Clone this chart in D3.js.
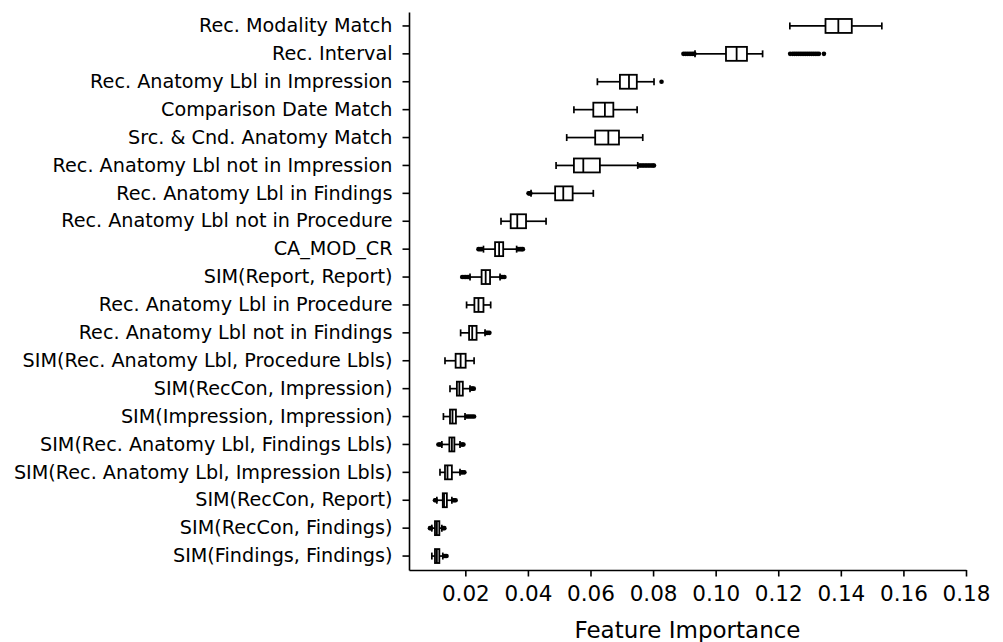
<!DOCTYPE html>
<html>
<head>
<meta charset="utf-8">
<script src="https://cdn.jsdelivr.net/npm/d3@7"></script>
<style>
  body { margin: 0; background: #fff; }
  .axis text { font-family: "DejaVu Sans", sans-serif; fill: #000; }
  .axis path, .axis line { stroke: #000; }
</style>
</head>
<body>
<div id="chart"></div>
<script>
var features = [
  "Rec. Modality Match",
  "Rec. Interval",
  "Rec. Anatomy Lbl in Impression",
  "Comparison Date Match",
  "Src. & Cnd. Anatomy Match",
  "Rec. Anatomy Lbl not in Impression",
  "Rec. Anatomy Lbl in Findings",
  "Rec. Anatomy Lbl not in Procedure",
  "CA_MOD_CR",
  "SIM(Report, Report)",
  "Rec. Anatomy Lbl in Procedure",
  "Rec. Anatomy Lbl not in Findings",
  "SIM(Rec. Anatomy Lbl, Procedure Lbls)",
  "SIM(RecCon, Impression)",
  "SIM(Impression, Impression)",
  "SIM(Rec. Anatomy Lbl, Findings Lbls)",
  "SIM(Rec. Anatomy Lbl, Impression Lbls)",
  "SIM(RecCon, Report)",
  "SIM(RecCon, Findings)",
  "SIM(Findings, Findings)"
];

var whiskerLo = [0.1237, 0.0934, 0.0622, 0.0547, 0.0524, 0.0490, 0.0410, 0.0314, 0.0258, 0.0215,
                 0.0204, 0.0185, 0.0135, 0.0151, 0.0130, 0.0125, 0.0119, 0.0109, 0.0093, 0.0093];
var q1 = [0.1351, 0.1033, 0.0694, 0.0609, 0.0615, 0.0547, 0.0487, 0.0345, 0.0295, 0.0252,
          0.0229, 0.0212, 0.0169, 0.0173, 0.0151, 0.0149, 0.0135, 0.0128, 0.0103, 0.0103];
var median = [0.1392, 0.1067, 0.0723, 0.0646, 0.0657, 0.0577, 0.0513, 0.0366, 0.0308, 0.0265,
              0.0242, 0.0222, 0.0185, 0.0181, 0.0159, 0.0157, 0.0143, 0.0132, 0.0109, 0.0109];
var q3 = [0.1435, 0.1100, 0.0748, 0.0673, 0.0691, 0.0630, 0.0543, 0.0394, 0.0321, 0.0279,
          0.0258, 0.0236, 0.0201, 0.0192, 0.0170, 0.0165, 0.0157, 0.0141, 0.0117, 0.0117];
var whiskerHi = [0.1531, 0.1150, 0.0803, 0.0749, 0.0767, 0.0751, 0.0609, 0.0458, 0.0364, 0.0311,
                 0.0281, 0.0263, 0.0228, 0.0215, 0.0199, 0.0183, 0.0183, 0.0157, 0.0125, 0.0128];
var outliers = [
  [],
  [0.0897, 0.0903, 0.0909, 0.0915, 0.0921, 0.0927, 0.0932,
   0.1238, 0.1246, 0.1252, 0.1258, 0.1264, 0.1270, 0.1276, 0.1282, 0.1288, 0.1294, 0.1300,
   0.1306, 0.1312, 0.1318, 0.1324, 0.1330, 0.1346],
  [0.0827],
  [],
  [],
  [0.0755, 0.0760, 0.0765, 0.0770, 0.0775, 0.0780, 0.0785, 0.0790, 0.0795, 0.0800, 0.0803],
  [0.0402, 0.0405, 0.0408],
  [],
  [0.0242, 0.0247, 0.0252, 0.0368, 0.0372, 0.0377, 0.0381, 0.0384],
  [0.0190, 0.0196, 0.0201, 0.0206, 0.0211, 0.0315, 0.0320, 0.0325],
  [],
  [0.0267, 0.0272, 0.0277],
  [],
  [0.0219, 0.0223, 0.0227],
  [0.0204, 0.0210, 0.0216, 0.0222, 0.0228],
  [0.0114, 0.0118, 0.0121, 0.0187, 0.0191, 0.0194],
  [0.0187, 0.0192, 0.0197],
  [0.0103, 0.0106, 0.0161, 0.0165, 0.0169],
  [0.0087, 0.0090, 0.0129, 0.0133],
  [0.0132, 0.0136, 0.0140]
];

var xTicks = [0.02, 0.04, 0.06, 0.08, 0.10, 0.12, 0.14, 0.16, 0.18];
var xLabel = "Feature Importance";

var width = 1003, height = 642;
var margin = {left: 409, right: 37, top: 12, bottom: 72};

var svg = d3.select("#chart").append("svg")
  .attr("width", width)
  .attr("height", height);

var x = d3.scaleLinear()
  .domain([0.002, 0.18])
  .range([margin.left, width - margin.right]);

var y = d3.scaleBand()
  .domain(features)
  .range([margin.top, height - margin.bottom])
  .padding(0);

var bw = y.bandwidth();
var boxH = bw * 0.5;
var capH = bw * 0.25;

var rows = features.map(function (f, i) {
  return {name: f, lo: whiskerLo[i], q1: q1[i], med: median[i], q3: q3[i], hi: whiskerHi[i], out: outliers[i]};
});

var g = svg.append("g").attr("class", "boxes");

var row = g.selectAll(".row")
  .data(rows)
  .enter().append("g")
  .attr("class", "row")
  .attr("transform", function (d) { return "translate(0," + (y(d.name) + bw / 2) + ")"; });

// whiskers
row.append("line")
  .attr("x1", function (d) { return x(d.lo); })
  .attr("x2", function (d) { return x(d.q1); })
  .attr("stroke", "#000").attr("stroke-width", 1.7);
row.append("line")
  .attr("x1", function (d) { return x(d.q3); })
  .attr("x2", function (d) { return x(d.hi); })
  .attr("stroke", "#000").attr("stroke-width", 1.7);

// caps
row.selectAll(".cap")
  .data(function (d) { return [d.lo, d.hi]; })
  .enter().append("line")
  .attr("class", "cap")
  .attr("x1", function (v) { return x(v); })
  .attr("x2", function (v) { return x(v); })
  .attr("y1", -capH / 2)
  .attr("y2", capH / 2)
  .attr("stroke", "#000").attr("stroke-width", 1.7);

// box
row.append("rect")
  .attr("x", function (d) { return x(d.q1); })
  .attr("width", function (d) { return x(d.q3) - x(d.q1); })
  .attr("y", -boxH / 2)
  .attr("height", boxH)
  .attr("fill", "#fff")
  .attr("stroke", "#000").attr("stroke-width", 1.8);

// median
row.append("line")
  .attr("x1", function (d) { return x(d.med); })
  .attr("x2", function (d) { return x(d.med); })
  .attr("y1", -boxH / 2)
  .attr("y2", boxH / 2)
  .attr("stroke", "#000").attr("stroke-width", 1.8);

// fliers
row.selectAll(".flier")
  .data(function (d) { return d.out; })
  .enter().append("circle")
  .attr("class", "flier")
  .attr("cx", function (v) { return x(v); })
  .attr("cy", 0)
  .attr("r", 2.3)
  .attr("fill", "#000");

var xAxis = d3.axisBottom(x)
  .tickValues(xTicks)
  .tickFormat(d3.format(".2f"))
  .tickSize(6.5)
  .tickSizeOuter(0)
  .tickPadding(9);

var yAxis = d3.axisLeft(y)
  .tickSize(6.5)
  .tickSizeOuter(0)
  .tickPadding(10);

var xg = svg.append("g")
  .attr("class", "axis x")
  .attr("transform", "translate(0," + (height - margin.bottom) + ")")
  .call(xAxis);
xg.selectAll("text").style("font-size", "21.5px");
xg.selectAll("path, line").attr("stroke-width", 1.6);

var yg = svg.append("g")
  .attr("class", "axis y")
  .attr("transform", "translate(" + margin.left + ",0)")
  .call(yAxis);
yg.selectAll("text").style("font-size", "19.2px");
yg.selectAll("path, line").attr("stroke-width", 1.6);

svg.append("text")
  .attr("x", (margin.left + width - margin.right) / 2)
  .attr("y", 638)
  .attr("text-anchor", "middle")
  .style("font-family", "DejaVu Sans, sans-serif")
  .style("font-size", "23px")
  .style("fill", "#000")
  .text(xLabel);
</script>
</body>
</html>
